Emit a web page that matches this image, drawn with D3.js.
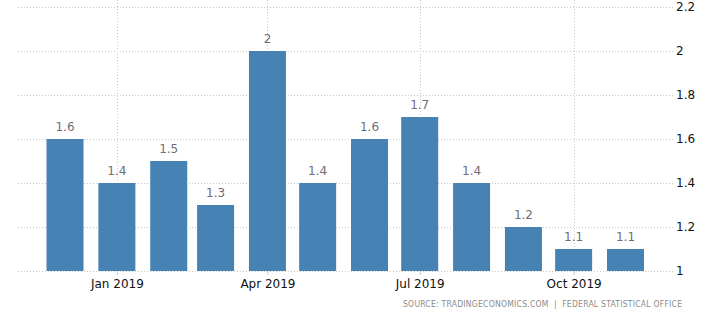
<!DOCTYPE html>
<html>
<head>
<meta charset="utf-8">
<script src="https://cdn.jsdelivr.net/npm/d3@7"></script>
<style>
  html, body { margin: 0; padding: 0; background: #fff; }
  svg { display: block; }
</style>
</head>
<body>
<svg id="chart" width="701" height="322"></svg>
<script>
// Monthly values, Dec 2018 – Nov 2019
const months = ["2018-12", "2019-01", "2019-02", "2019-03", "2019-04", "2019-05",
                "2019-06", "2019-07", "2019-08", "2019-09", "2019-10", "2019-11"];
const values = [1.6, 1.4, 1.5, 1.3, 2, 1.4, 1.6, 1.7, 1.4, 1.2, 1.1, 1.1];
const yTicks = [1, 1.2, 1.4, 1.6, 1.8, 2, 2.2];
const xTicks = ["2019-01", "2019-04", "2019-07", "2019-10"];
const sourceText = "SOURCE: TRADINGECONOMICS.COM\u00a0\u00a0|\u00a0\u00a0FEDERAL STATISTICAL OFFICE";

const parse = d3.timeParse("%Y-%m");
const data = months.map((m, i) => ({ date: parse(m), value: values[i] }));

const svg = d3.select("#chart");
const left = 18, right = 673, bottom = 271;

const x = d3.scaleTime()
  .domain([parse("2018-12"), parse("2019-11")])
  .range([65, 625.5]);
const y = d3.scaleLinear().domain([1, 2.2]).range([bottom, 7]);
const barW = 37;

// Horizontal grid
svg.append("g").selectAll("line").data(yTicks).join("line")
  .attr("x1", left).attr("x2", right)
  .attr("y1", d => Math.round(y(d)) + 0.5).attr("y2", d => Math.round(y(d)) + 0.5)
  .attr("stroke", "#c8c8c8").attr("stroke-dasharray", "1,2");

// Vertical grid at quarter months
svg.append("g").selectAll("line").data(xTicks.map(parse)).join("line")
  .attr("x1", d => Math.round(x(d)) + 0.5).attr("x2", d => Math.round(x(d)) + 0.5)
  .attr("y1", 0).attr("y2", bottom)
  .attr("stroke", "#c8c8c8").attr("stroke-dasharray", "1,2");

// Bars
svg.append("g").selectAll("rect").data(data).join("rect")
  .attr("x", d => x(d.date) - barW / 2)
  .attr("width", barW)
  .attr("y", d => y(d.value))
  .attr("height", d => y(1) - y(d.value))
  .attr("fill", "#4682b4");

// Value labels
svg.append("g").selectAll("text").data(data).join("text")
  .attr("x", d => x(d.date))
  .attr("y", d => y(d.value) - 8)
  .attr("text-anchor", "middle")
  .attr("font-family", "DejaVu Sans, sans-serif")
  .attr("font-size", 12)
  .attr("fill", "#6e6e78")
  .text(d => d3.format("")(d.value));

// Right value axis
const yAxis = d3.axisRight(y).tickValues(yTicks).tickSize(0).tickPadding(0)
  .tickFormat(d3.format(""));
svg.append("g")
  .attr("transform", `translate(${right + 3},0)`)
  .call(yAxis)
  .call(g => g.select(".domain").remove())
  .call(g => g.selectAll("text")
    .attr("font-family", "DejaVu Sans, sans-serif")
    .attr("font-size", 12).attr("fill", "#111"));

// Bottom time axis
const xAxis = d3.axisBottom(x).tickValues(xTicks.map(parse)).tickSize(4).tickPadding(4)
  .tickFormat(d3.timeFormat("%b %Y"));
svg.append("g")
  .attr("transform", `translate(0,${bottom})`)
  .call(xAxis)
  .call(g => g.select(".domain").remove())
  .call(g => g.selectAll("line").attr("stroke", "#c8c8c8"))
  .call(g => g.selectAll("text")
    .attr("font-family", "DejaVu Sans, sans-serif")
    .attr("font-size", 12).attr("fill", "#111"));

// Source note
svg.append("text")
  .attr("x", 682).attr("y", 307)
  .attr("text-anchor", "end")
  .attr("font-family", "DejaVu Sans Condensed, DejaVu Sans, sans-serif")
  .attr("font-size", 8.5)
  .attr("fill", "#8a8a8a")
  .attr("textLength", 279)
  .attr("lengthAdjust", "spacing")
  .text(sourceText);
</script>
</body>
</html>
